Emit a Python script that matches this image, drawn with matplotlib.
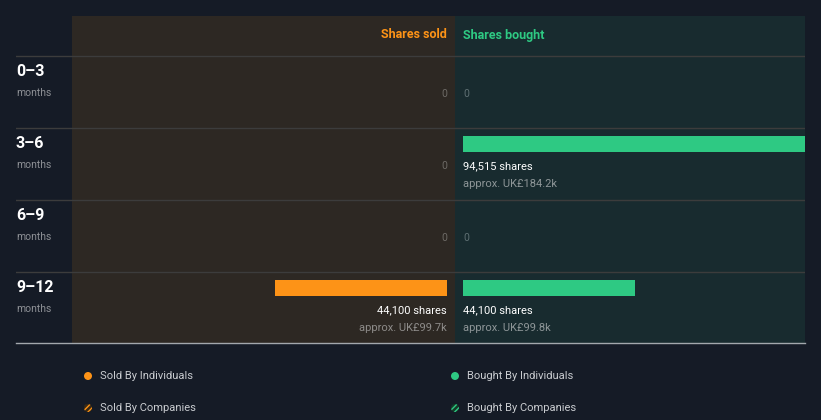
import matplotlib
matplotlib.use('Agg')
import matplotlib.pyplot as plt
from matplotlib.patches import Ellipse
from matplotlib.transforms import blended_transform_factory

# ---- data ----
periods = ['0–3', '3–6', '6–9', '9–12']
sold_shares = [0, 0, 0, 44100]
bought_shares = [0, 94515, 0, 44100]
sold_value_k = [0, 0, 0, 99.7]
bought_value_k = [0, 184.2, 0, 99.8]
legend_labels = ['Sold By Individuals', 'Bought By Individuals',
                 'Sold By Companies', 'Bought By Companies']

# ---- style ----
W, H = 821, 420
BG = '#151b26'
SOLD_BG = '#2d2823'
BOUGHT_BG = '#182b2f'
ORANGE = '#fd9317'
GREEN = '#2ec983'
LINE = '#3c3c3c'
FONT = 'Roboto'
plt.rcParams['font.family'] = [FONT, 'DejaVu Sans']

fig = plt.figure(figsize=(W / 100, H / 100), dpi=100, facecolor=BG)


def rect(x0, y0, x1, y1):
    return [x0 / W, 1 - y1 / H, (x1 - x0) / W, (y1 - y0) / H]


ROW = 72.0
TOP = 56
Y0, Y1 = 16, 343
ylim = ((Y1 - TOP) / ROW, (Y0 - TOP) / ROW)
pps = 172 / 44100.0  # pixels per share
bar_h = 16 / ROW
bar_c = 16 / ROW

axL = fig.add_axes(rect(72, Y0, 455, Y1))
axL.set_facecolor(SOLD_BG)
axL.set_xlim((447 - 72) / pps, -(455 - 447) / pps)
axR = fig.add_axes(rect(455, Y0, 805, Y1))
axR.set_facecolor(BOUGHT_BG)
axR.set_xlim(-(463 - 455) / pps, (805 - 463) / pps)

for ax in (axL, axR):
    ax.set_ylim(*ylim)
    ax.set_xticks([])
    ax.set_yticks([])
    for s in ax.spines.values():
        s.set_visible(False)

ys = [i + bar_c for i in range(len(periods))]
axL.barh(ys, sold_shares, height=bar_h, color=ORANGE)
axR.barh(ys, bought_shares, height=bar_h, color=GREEN)

for i in range(len(periods)):
    if sold_shares[i] == 0:
        axL.text(0, i + 0.53, '0', ha='right', va='center', fontsize=7.5, color='#6d6a66')
    else:
        axL.text(0, i + 0.53, f'{sold_shares[i]:,} shares', ha='right', va='center',
                 fontsize=8, color='white')
        axL.text(0, i + 0.78, f'approx. UK£{sold_value_k[i]}k', ha='right', va='center',
                 fontsize=8, color='#8e8c8a')
    if bought_shares[i] == 0:
        axR.text(0, i + 0.53, '0', ha='left', va='center', fontsize=7.5, color='#5f7073')
    else:
        axR.text(0, i + 0.53, f'{bought_shares[i]:,} shares', ha='left', va='center',
                 fontsize=8, color='white')
        axR.text(0, i + 0.78, f'approx. UK£{bought_value_k[i]}k', ha='left', va='center',
                 fontsize=8, color='#8e9698')

axL.text(0, (35 - TOP) / ROW, 'Shares sold', ha='right', va='center', fontsize=9,
         fontweight='bold', color=ORANGE)
axR.text(0, (35 - TOP) / ROW, 'Shares bought', ha='left', va='center', fontsize=9,
         fontweight='bold', color=GREEN)

# overlay for grid lines and row labels
axO = fig.add_axes(rect(16, Y0, 805, Y1))
axO.patch.set_alpha(0)
axO.set_ylim(*ylim)
axO.set_xlim(0, 1)
axO.axis('off')
for i in range(len(periods)):
    axO.axhline(i, color=LINE, lw=1)
axO.axhline(ylim[0] - 0.5 / ROW, color='#a3a8ad', lw=1, clip_on=False)

tr = blended_transform_factory(axO.transAxes, axO.transData)
for i, p in enumerate(periods):
    axO.text(0, i + 15 / ROW, p, transform=tr, ha='left', va='center', fontsize=11.5,
             fontweight='bold', color='white')
    axO.text(0, i + 37 / ROW, 'months', transform=tr, ha='left', va='center', fontsize=7.5,
             color='#8d9095')

# legend
leg_pos = [(88, 376), (455, 376), (88, 408), (455, 408)]
leg_col = [ORANGE, GREEN, ORANGE, GREEN]
for (lx, ly), lab, col, k in zip(leg_pos, legend_labels, leg_col, range(4)):
    if k < 2:
        e = Ellipse((lx / W, 1 - ly / H), 8 / W, 8 / H, transform=fig.transFigure,
                    facecolor=col, edgecolor='none')
    else:
        e = Ellipse((lx / W, 1 - ly / H), 8 / W, 8 / H, transform=fig.transFigure,
                    facecolor='#3a2a14' if col == ORANGE else '#143a28',
                    edgecolor=col, hatch='//////', lw=0)
    fig.add_artist(e)
    fig.text((lx + 12) / W, 1 - ly / H, lab, ha='left', va='center', fontsize=8,
             color='#c9ccd0')

fig.savefig('out.png', dpi=100, facecolor=BG)
